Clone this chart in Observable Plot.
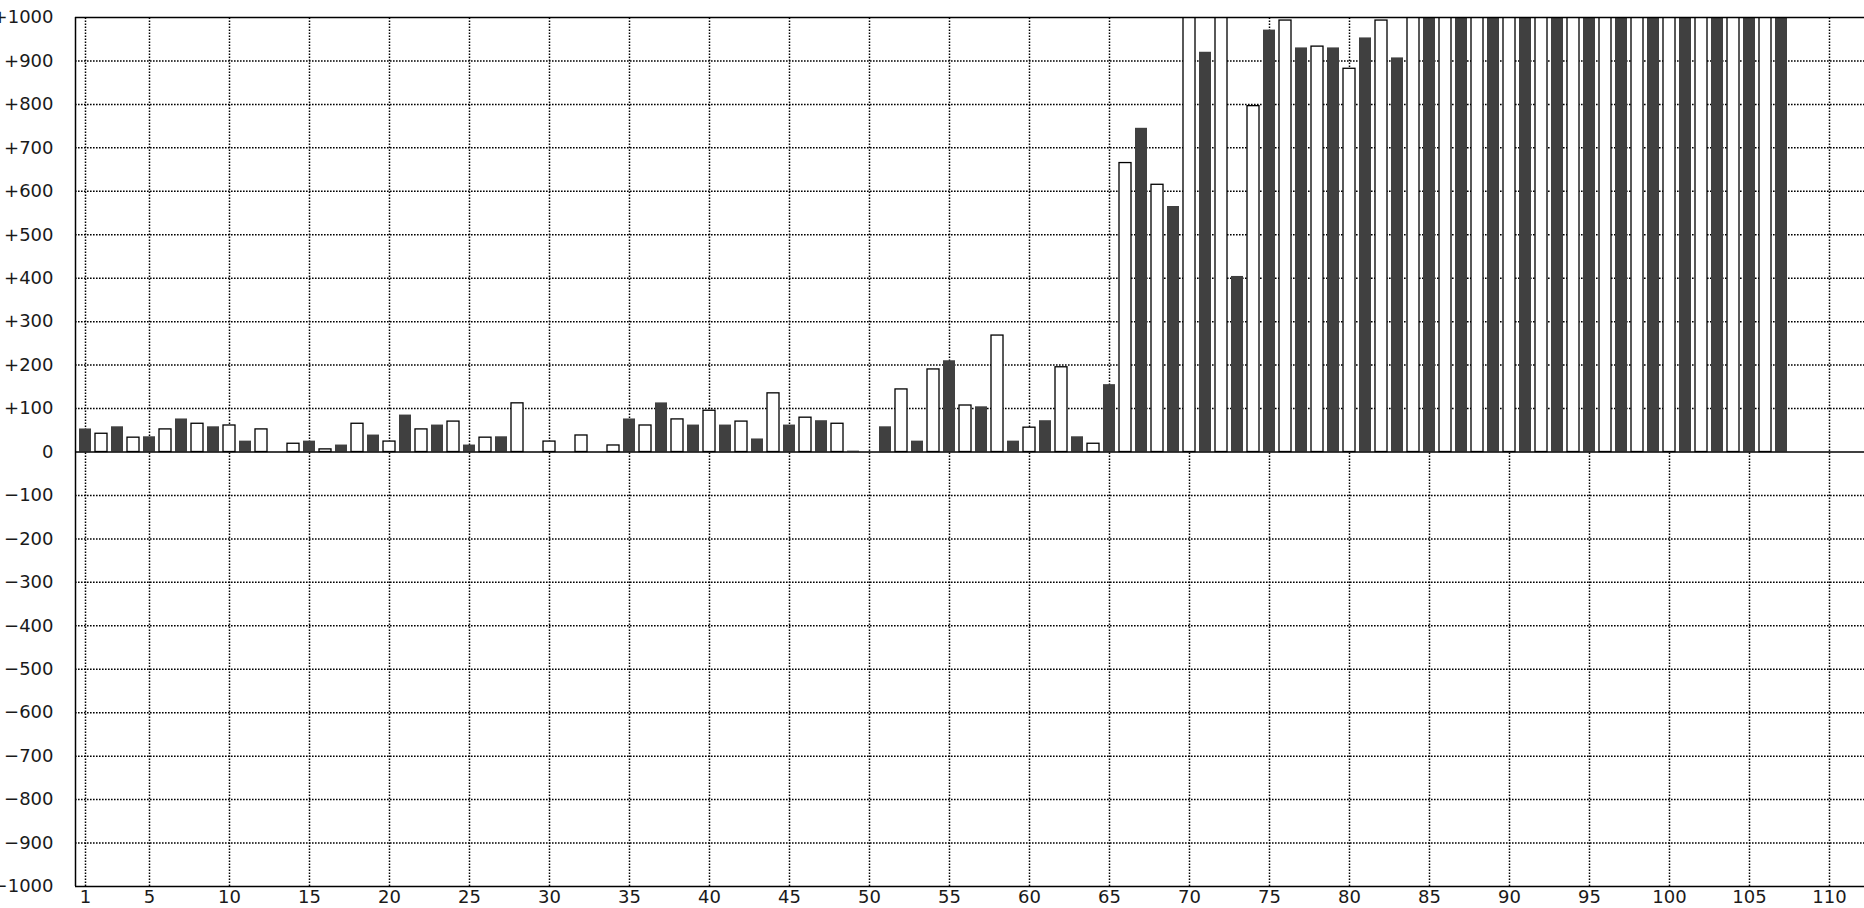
<!DOCTYPE html>
<html>
<head>
<meta charset="utf-8">
<script src="https://cdn.jsdelivr.net/npm/d3@7"></script>
<script src="https://cdn.jsdelivr.net/npm/@observablehq/plot@0.6"></script>
<style>
  html, body { margin: 0; padding: 0; background: #fff; overflow: hidden; }
</style>
</head>
<body>
<div id="chart"></div>
<script>
// Positions 1,3,5,...,107 (dark filled bars)
const darkPositions = [1,3,5,7,9,11,13,15,17,19,21,23,25,27,29,31,33,35,37,39,41,43,45,47,49,51,53,55,57,59,61,63,65,67,69,71,73,75,77,79,81,83,85,87,89,91,93,95,97,99,101,103,105,107];
const darkValues = [53,58,35,76,58,25,0,25,16,39,85,62,16,35,0,0,0,76,113,62,62,30,62,72,2,58,25,210,104,25,72,35,155,745,565,920,404,971,930,930,953,907,1000,1000,1000,1000,1000,1000,1000,1000,1000,1000,1000,1000];

// Positions 2,4,6,...,106 (white outlined bars)
const lightPositions = [2,4,6,8,10,12,14,16,18,20,22,24,26,28,30,32,34,36,38,40,42,44,46,48,50,52,54,56,58,60,62,64,66,68,70,72,74,76,78,80,82,84,86,88,90,92,94,96,98,100,102,104,106];
const lightValues = [42,33,52,65,61,52,19,6,65,24,52,70,33,112,24,38,15,61,75,95,70,135,79,65,0,144,190,107,268,56,195,19,665,615,1000,1000,796,993,933,882,993,1000,1000,1000,1000,1000,1000,1000,1000,1000,1000,1000,1000];

// Tick values
const xTicks = [1,5,10,15,20,25,30,35,40,45,50,55,60,65,70,75,80,85,90,95,100,105,110];
const yTicks = [-1000,-900,-800,-700,-600,-500,-400,-300,-200,-100,0,100,200,300,400,500,600,700,800,900,1000];
const yGrid = [-900,-800,-700,-600,-500,-400,-300,-200,-100,100,200,300,400,500,600,700,800,900];

const dark = darkPositions.map((p, i) => ({pos: p, value: darkValues[i]})).filter(d => d.value !== 0);
const light = lightPositions.map((p, i) => ({pos: p, value: lightValues[i]})).filter(d => d.value !== 0);

const half = 0.375;
const fmt = d => d > 0 ? "+" + d : d < 0 ? "\u2212" + (-d) : "0";
const dots = "1.6,1.4";

const chart = Plot.plot({
  width: 1864,
  height: 908,
  marginLeft: 75,
  marginRight: 0,
  marginTop: 17,
  marginBottom: 22,
  x: {type: "linear", domain: [0.375, 112.1875]},
  y: {type: "linear", domain: [-1000, 1000]},
  style: {fontFamily: "'DejaVu Sans', sans-serif", fontSize: "18px", color: "#1a1a1a", background: "#fff"},
  marks: [
    Plot.ruleX(xTicks, {x: d => d, y1: -1000, y2: 1000, stroke: "#000", strokeWidth: 1.5, strokeDasharray: dots}),
    Plot.ruleY(yGrid, {y: d => d, x1: 0.375, x2: 112.1875, stroke: "#000", strokeWidth: 1.5, strokeDasharray: dots}),
    Plot.rect(dark, {x1: d => d.pos - half, x2: d => d.pos + half, y1: 0, y2: d => d.value, fill: "#404040", clip: true}),
    Plot.rect(light, {x1: d => d.pos - half, x2: d => d.pos + half, y1: 0, y2: d => d.value, fill: "#fff", stroke: "#000", strokeWidth: 1.3, clip: true}),
    Plot.ruleY([0], {y: d => d, stroke: "#000", strokeWidth: 1.5}),
    Plot.ruleY([1000, -1000], {y: d => d, stroke: "#000", strokeWidth: 1.5}),
    Plot.ruleX([0.375], {x: d => d, y1: -1000, y2: 1000, stroke: "#000", strokeWidth: 1.5}),
    Plot.axisX(xTicks, {tickSize: 0, tickPadding: 4, label: null, tickFormat: d => String(d)}),
    Plot.axisY(yTicks, {tickSize: 0, tickPadding: 22, label: null, tickFormat: fmt})
  ]
});
document.getElementById("chart").appendChild(chart);
</script>
</body>
</html>
